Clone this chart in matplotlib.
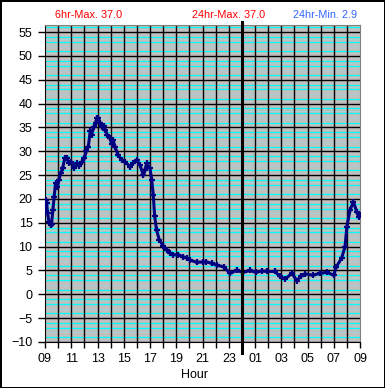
import numpy as np
import matplotlib
matplotlib.use("Agg")
import matplotlib.pyplot as plt

plt.rcParams['font.family'] = ['Liberation Sans', 'DejaVu Sans']

# hours after 09:00, temperature
hours = [0.00, 0.05, 0.12, 0.2, 0.3, 0.42, 0.5, 0.6, 0.7, 0.8, 0.95, 1.05, 1.2, 1.35,
         1.5, 1.67, 1.8, 2.0, 2.2, 2.4, 2.6, 2.8, 3.0, 3.15, 3.3, 3.45, 3.55, 3.7,
         3.85, 3.95, 4.05, 4.2, 4.35, 4.5, 4.6, 4.75, 4.95, 5.08, 5.2, 5.33, 5.58,
         5.84, 6.1, 6.48, 6.7, 6.99, 7.24, 7.49, 7.6, 7.75, 8.0, 8.13, 8.25, 8.35,
         8.5, 8.7, 9.0, 9.27, 9.5, 9.78, 10.15, 10.5, 10.8, 11.05, 11.56, 12.0, 12.3,
         12.7, 13.1, 13.6, 14.1, 14.6, 15.1, 15.6, 16.1, 16.5, 16.9, 17.5, 17.9, 18.3,
         18.8, 19.2, 19.5, 19.8, 20.4, 20.95, 21.5, 22.0, 22.2, 22.6, 22.86, 23.0,
         23.24, 23.5, 23.75, 23.9, 24.0]
temps = [17.3, 19.8, 19.2, 17.0, 15.2, 14.5, 14.8, 17.7, 20.5, 23.3, 22.5, 24.0, 25.4, 26.5,
         28.5, 28.7, 27.6, 27.8, 26.6, 27.5, 27.0, 27.8, 28.5, 30.1, 31.0, 34.3, 33.5, 35.0,
         36.0, 36.9, 37.0, 36.0, 35.0, 35.3, 34.5, 33.5, 32.7, 31.6, 32.3, 30.9, 29.2,
         28.2, 27.8, 26.8, 27.5, 28.2, 27.1, 25.0, 26.0, 27.5, 26.4, 24.0, 20.8, 16.5,
         13.5, 11.5, 10.2, 9.3, 8.7, 8.3, 8.3, 7.9, 7.6, 7.2, 6.7, 6.8, 6.8,
         6.5, 6.1, 5.8, 4.4, 5.0, 4.6, 5.0, 4.6, 4.9, 4.8, 4.8, 3.8, 3.2,
         4.4, 2.9, 3.8, 4.3, 4.0, 4.4, 4.6, 4.0, 5.8, 7.6, 10.0, 14.2,
         17.7, 19.4, 17.3, 16.3, 16.6]

tick_labels = ["09", "11", "13", "15", "17", "19", "21", "23", "01", "03", "05", "07", "09"]
header = [("6hr-Max. 37.0", "#ff0000"), ("24hr-Max. 37.0", "#ff0000"), ("24hr-Min. 2.9", "#3366ff")]

W, H = 385, 388
fig = plt.figure(figsize=(W / 100, H / 100), dpi=100)
fig.patch.set_facecolor("white")
fig.patch.set_edgecolor("black")
fig.patch.set_linewidth(2)

ax = fig.add_axes([45 / W, 1 - 342 / H, 315 / W, 317 / H])
ax.set_facecolor("#c0c0c0")
ax.set_xlim(0, 24)
ax.set_ylim(-10, 56.5)

# background stripes
for b in range(-10, 56, 5):
    for off in (1, 3, 4):
        if b + off < 56.5:
            ax.axhline(b + off, color="#00ffff", lw=0.9, zorder=1)
    for off in (2, 3.5):
        if b + off < 56.5:
            ax.axhline(b + off, color="#a0d8d8", lw=0.5, zorder=1)
for b in range(-10, 56, 5):
    ax.axhline(b, color="black", lw=1.0, zorder=2)
for h in range(1, 24):
    ax.axvline(h, color="black", lw=1.0, zorder=2)

# midnight marker
ax.axvline(15, ymin=-0.035, ymax=1.01, color="black", lw=2.2, clip_on=False, zorder=5)

ax.plot(hours, temps, color="#000080", lw=2.2, marker="+", ms=5, mew=1.6, zorder=4)

ax.set_xticks(range(0, 25))
ax.set_xticklabels([tick_labels[i // 2] if i % 2 == 0 else "" for i in range(25)])
ax.set_yticks(range(-10, 56, 5))
ax.tick_params(axis="x", length=4, width=1, pad=4, labelsize=9, direction="out")
ax.tick_params(axis="y", length=5, width=1, pad=4, labelsize=9, direction="out")

for s in ("left", "bottom"):
    ax.spines[s].set_color("black")
for s in ("top", "right"):
    ax.spines[s].set_color("#808080")

xs = [55, 192, 293]
for (txt, col), x in zip(header, xs):
    fig.text(x / W, 1 - 15 / H, txt, color=col, fontsize=7.8, ha="left", va="center")

fig.text(195 / W, 1 - 375 / H, "Hour", fontsize=9, ha="center", va="center")

fig.savefig("out.png", dpi=100)
